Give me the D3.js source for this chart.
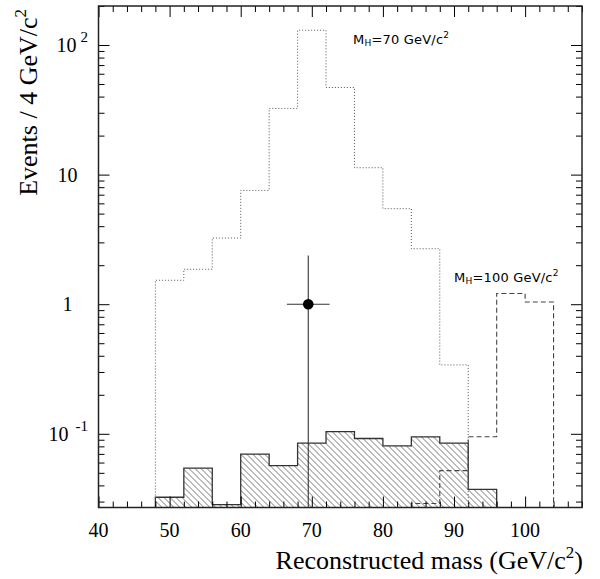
<!DOCTYPE html>
<html>
<head>
<meta charset="utf-8">
<script src="https://cdn.jsdelivr.net/npm/d3@7"></script>
<style>
    body { margin: 0; background: #fff; }
    #chart { width: 600px; height: 579px; }
    .serif { font-family: "Liberation Serif", "Times New Roman", serif; fill: #000; }
    .annot { font-family: "DejaVu Sans", sans-serif; font-size: 13px; letter-spacing: 0.2px; fill: #000; }
</style>
</head>
<body>
<div id="chart"></div>
<script>

// bin edges (GeV/c^2), 4 GeV bins
const binEdges = [48, 52, 56, 60, 64, 68, 72, 76, 80, 84, 88, 92, 96, 100, 104];

// events per bin
const signal70 = [1.53, 1.86, 3.24, 7.55, 32.4, 130, 47, 11.3, 5.46, 2.68, 0.34, 0, 0, 0];
const signal100 = [0, 0, 0, 0, 0, 0, 0, 0, 0, 0.029, 0.052, 0.095, 1.21, 1.04];
const background = [0.0324, 0.0543, 0.0284, 0.0697, 0.0569, 0.0847, 0.104, 0.092, 0.0807, 0.0948, 0.0847, 0.0373, 0, 0];

// the one observed event
const dataMass = [69.5];
const dataEvents = [1];
const dataMassErr = [3];
const dataEventsHigh = [2.38];

// axis labels
const xTickLabels = [40, 50, 60, 70, 80, 90, 100];
const yTickValues = [0.1, 1, 10, 100];
const yTickBase = ["10", "1", "10", "10"];
const yTickExp = ["-1", "", "", "2"];

class MassPlot {

    constructor(parentElement) {
        this.parentElement = parentElement;
        this.initVis();
    }

    initVis() {
        let vis = this;

        vis.margin = {top: 6, right: 18, bottom: 71.5, left: 98.5};
        vis.width = 600 - vis.margin.left - vis.margin.right;
        vis.height = 579 - vis.margin.top - vis.margin.bottom;

        vis.svg = d3.select("#" + vis.parentElement).append("svg")
            .attr("width", 600)
            .attr("height", 579)
            .append("g")
            .attr("transform", `translate(${vis.margin.left}, ${vis.margin.top})`);

        // hatch for the background histogram
        let defs = vis.svg.append("defs");
        defs.append("pattern")
            .attr("id", "hatch")
            .attr("patternUnits", "userSpaceOnUse")
            .attr("width", 6)
            .attr("height", 6)
            .append("path")
            .attr("d", "M0,0 L6,6 M-1,5 L1,7 M5,-1 L7,1")
            .attr("stroke", "#777")
            .attr("stroke-width", 1);

        defs.append("clipPath")
            .attr("id", "frame-clip")
            .append("rect")
            .attr("width", vis.width)
            .attr("height", vis.height);

        vis.x = d3.scaleLinear().domain([40, 108]).range([0, vis.width]);
        vis.y = d3.scaleLog().domain([0.027, 200]).range([vis.height, 0]);

        vis.updateVis();
    }

    stepPoints(values) {
        let vis = this;
        let idx = values.map((v, i) => v > 0 ? i : -1).filter(i => i >= 0);
        let first = idx[0], last = idx[idx.length - 1];
        let pts = [[vis.x(binEdges[first]), vis.height]];
        for (let i = first; i <= last; i++) {
            pts.push([vis.x(binEdges[i]), vis.y(values[i])]);
            pts.push([vis.x(binEdges[i + 1]), vis.y(values[i])]);
        }
        pts.push([vis.x(binEdges[last + 1]), vis.height]);
        return pts;
    }

    updateVis() {
        let vis = this;
        let line = d3.line();
        let plot = vis.svg.append("g").attr("clip-path", "url(#frame-clip)");

        // background (hatched)
        plot.append("path")
            .attr("d", line(vis.stepPoints(background)) + "Z")
            .attr("fill", "url(#hatch)")
            .attr("stroke", "none");
        plot.append("path")
            .attr("d", line(vis.stepPoints(background)))
            .attr("fill", "none")
            .attr("stroke", "#333")
            .attr("stroke-width", 1.3);

        // signal MH = 70 (dotted)
        plot.append("path")
            .attr("d", line(vis.stepPoints(signal70)))
            .attr("fill", "none")
            .attr("stroke", "#555")
            .attr("stroke-width", 1)
            .attr("stroke-dasharray", "1,2");

        // signal MH = 100 (dashed)
        plot.append("path")
            .attr("d", line(vis.stepPoints(signal100)))
            .attr("fill", "none")
            .attr("stroke", "#444")
            .attr("stroke-width", 1.1)
            .attr("stroke-dasharray", "5,3");

        // data point with errors
        let pts = dataMass.map((m, i) => ({m: m, n: dataEvents[i], dm: dataMassErr[i], hi: dataEventsHigh[i]}));
        let pt = plot.selectAll(".datapt").data(pts).enter().append("g").attr("class", "datapt");
        pt.append("line")
            .attr("x1", d => vis.x(d.m)).attr("x2", d => vis.x(d.m))
            .attr("y1", d => vis.y(d.hi)).attr("y2", vis.height)
            .attr("stroke", "#333").attr("stroke-width", 1.1);
        pt.append("line")
            .attr("x1", d => vis.x(d.m - d.dm)).attr("x2", d => vis.x(d.m + d.dm))
            .attr("y1", d => vis.y(d.n)).attr("y2", d => vis.y(d.n))
            .attr("stroke", "#333").attr("stroke-width", 1.1);
        pt.append("circle")
            .attr("cx", d => vis.x(d.m))
            .attr("cy", d => vis.y(d.n))
            .attr("r", 5.3)
            .attr("fill", "#000");

        // ticks on all four sides, pointing inward
        let xMinor = d3.range(40, 109, 2).filter(v => v % 10 !== 0);
        let yAll = vis.y.ticks();
        let isDecade = v => Math.abs(Math.log10(v) - Math.round(Math.log10(v))) < 1e-6;
        let yMajor = yAll.filter(isDecade);
        let yMinor = yAll.filter(v => !isDecade(v));

        let axes = [
            [d3.axisBottom(vis.x), `translate(0,${vis.height})`],
            [d3.axisTop(vis.x), "translate(0,0)"],
            [d3.axisLeft(vis.y), "translate(0,0)"],
            [d3.axisRight(vis.y), `translate(${vis.width},0)`]
        ];
        axes.forEach(([ax, tr], k) => {
            let isX = k < 2;
            [[isX ? xTickLabels : yMajor, 11], [isX ? xMinor : yMinor, 6]].forEach(([vals, len]) => {
                let g = vis.svg.append("g")
                    .attr("transform", tr)
                    .call(ax.tickValues(vals).tickSize(-len).tickSizeOuter(0).tickFormat(""));
                g.select(".domain").remove();
                g.selectAll(".tick line").attr("stroke", "#000").attr("stroke-width", 1);
            });
        });

        // frame
        vis.svg.append("rect")
            .attr("width", vis.width)
            .attr("height", vis.height)
            .attr("fill", "none")
            .attr("stroke", "#222")
            .attr("stroke-width", 1.5);

        // x tick labels
        vis.svg.selectAll(".xlab").data(xTickLabels).enter().append("text")
            .attr("class", "xlab serif")
            .attr("x", d => vis.x(d))
            .attr("y", vis.height + 29)
            .attr("text-anchor", "middle")
            .attr("font-size", 20)
            .text(d => d);

        // y tick labels
        let ylab = vis.svg.selectAll(".ylab").data(yTickValues).enter().append("text")
            .attr("class", "ylab serif")
            .attr("x", (d, i) => yTickExp[i] ? -10.5 : -31)
            .attr("y", d => vis.y(d) + 7)
            .attr("text-anchor", (d, i) => yTickExp[i] ? "end" : "middle")
            .attr("font-size", 20);
        ylab.append("tspan").text((d, i) => yTickBase[i]);
        ylab.append("tspan")
            .attr("dx", (d, i) => yTickExp[i] === "-1" ? 7 : 4)
            .attr("dy", -10)
            .attr("font-size", 15)
            .text((d, i) => yTickExp[i]);

        // axis titles
        let xt = vis.svg.append("text")
            .attr("class", "serif")
            .attr("x", vis.width + 1)
            .attr("y", vis.height + 61)
            .attr("text-anchor", "end")
            .attr("font-size", 26);
        xt.append("tspan").text("Reconstructed mass (GeV/c");
        xt.append("tspan").attr("dy", -11).attr("font-size", 17).text("2");
        xt.append("tspan").attr("dy", 11).text(")");

        let yt = vis.svg.append("text")
            .attr("class", "serif")
            .attr("transform", `translate(${37 - vis.margin.left}, 3) rotate(-90)`)
            .attr("text-anchor", "end")
            .attr("font-size", 26);
        yt.append("tspan").text("Events / 4 GeV/c");
        yt.append("tspan").attr("dy", -11).attr("font-size", 17).text("2");

        // annotations
        let a1 = vis.svg.append("text")
            .attr("class", "annot")
            .attr("x", 353 - vis.margin.left)
            .attr("y", 44 - vis.margin.top);
        a1.append("tspan").text("M");
        a1.append("tspan").attr("font-size", 9).attr("dy", 2).text("H");
        a1.append("tspan").attr("dy", -2).text("=70 GeV/c");
        a1.append("tspan").attr("font-size", 9).attr("dy", -6).text("2");

        let a2 = vis.svg.append("text")
            .attr("class", "annot")
            .attr("x", 454 - vis.margin.left)
            .attr("y", 282 - vis.margin.top);
        a2.append("tspan").text("M");
        a2.append("tspan").attr("font-size", 9).attr("dy", 2).text("H");
        a2.append("tspan").attr("dy", -2).text("=100 GeV/c");
        a2.append("tspan").attr("font-size", 9).attr("dy", -6).text("2");
    }
}

new MassPlot("chart");
</script>
</body>
</html>
